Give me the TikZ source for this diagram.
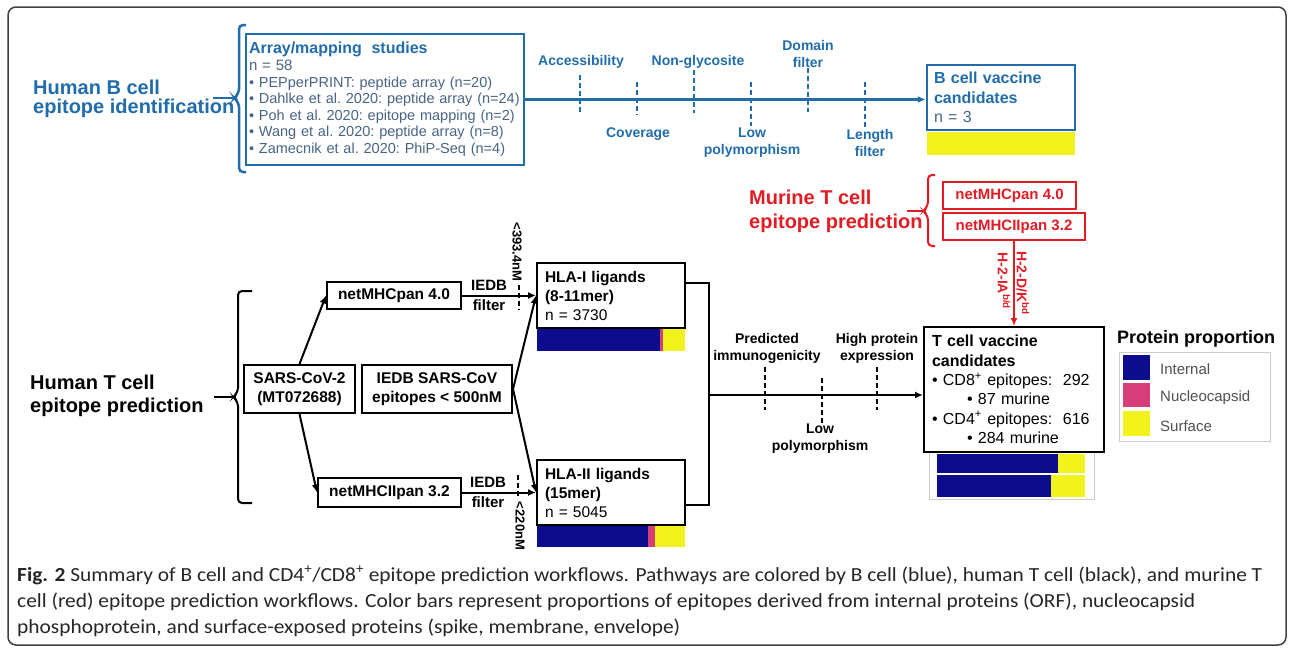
\documentclass[tikz,border=0pt]{standalone}
\usepackage{fontspec}
\setmainfont{Liberation Sans}
\newfontfamily\capfont[FakeStretch=1.07]{Carlito}
\usetikzlibrary{arrows.meta}
\definecolor{bblue}{RGB}{33,108,170}
\definecolor{bgray}{RGB}{72,100,132}
\definecolor{mred}{RGB}{226,28,36}
\definecolor{pinternal}{RGB}{12,12,140}
\definecolor{pnucleo}{RGB}{214,62,122}
\definecolor{psurface}{RGB}{242,242,28}
\definecolor{legendgray}{RGB}{80,80,80}
\tikzset{
  title/.style={inner sep=0pt, align=left, font=\bfseries\fontsize{20}{23}\selectfont},
  box/.style={draw, line width=2pt, inner sep=0pt, align=center, font=\bfseries\fontsize{15.5}{19}\selectfont},
  bbox/.style={box, draw=bblue, line width=2.5pt},
  mbox/.style={box, draw=mred, text=mred, font=\bfseries\fontsize{15}{18}\selectfont},
  tline/.style={line width=2pt},
  bline/.style={bblue, line width=2.5pt},
  tcut/.style={line width=2pt, dash pattern=on 5pt off 3pt},
  bcut/.style={tcut, bblue},
  flabel/.style={inner sep=0pt, align=center, font=\bfseries\fontsize{14}{17}\selectfont},
  blabel/.style={flabel, text=bblue},
  rlabel/.style={inner sep=0pt, rotate=-90, font=\bfseries\fontsize{13}{15}\selectfont},
  mlabel/.style={rlabel, text=mred, font=\bfseries\fontsize{14}{16}\selectfont},
  legtext/.style={anchor=west, inner sep=0pt, text=legendgray, font=\fontsize{15}{18}\selectfont},
  captext/.style={anchor=base west, inner sep=0pt, text=black!85, font=\capfont\fontsize{20}{22}\selectfont}
}
\begin{document}
\begin{tikzpicture}[x=1pt, y=-1pt, >={Latex[length=8pt,width=7pt]}]
\useasboundingbox (0,0) rectangle (1293,649);
\draw[black!75, line width=1.5pt, rounded corners=8pt] (8,7) rectangle (1286,645);

\node[title, text=bblue, anchor=west, font=\bfseries\fontsize{20}{19}\selectfont] (btitle) at (33,99) {Human B cell\\epitope identification};
\draw[bline, rounded corners=4pt] (246,25) -- (239,25) -- (239,93) -- (234,98) -- (239,103) -- (239,172) -- (246,172);
\draw[bline] (213,98) -- (234,98);
\node[bbox, minimum width=278pt, minimum height=131pt, text width=272pt, inner xsep=3pt, align=left, text=bgray, font=\frenchspacing\fontsize{14.5}{16.6}\selectfont] (bstudy) at (385,99.5) {{\color{bblue}\bfseries\fontsize{16}{16.6}\selectfont Array/mapping\ \ studies}\\{\fontsize{15}{16.6}\selectfont n = 58}\\• PEPperPRINT: peptide array (n=20)\\• Dahlke et al. 2020: peptide array (n=24)\\• Poh et al. 2020: epitope mapping (n=2)\\• Wang et al. 2020: peptide array (n=8)\\• Zamecnik et al. 2020: PhiP-Seq (n=4)};
\node[bbox, minimum width=148pt, minimum height=65pt, text width=134pt, inner xsep=7pt, align=left, text=bblue, font=\bfseries\fontsize{16}{19.5}\selectfont] (bvacc) at (1001,97.5) {B cell vaccine\\candidates\\{\mdseries\color{bgray} n = 3}};
\fill[psurface] (927,132) rectangle (1075,155);
\draw[bline, ->] (bstudy.east) -- (bstudy.east -| bvacc.west);
\draw[bcut] (580,75) -- (580,113);
\draw[bcut] (637,82) -- (637,115);
\draw[bcut] (694,70) -- (694,113);
\draw[bcut] (751,82) -- (751,126);
\draw[bcut] (808,68) -- (808,112);
\draw[bcut] (865,82) -- (865,128);
\node[blabel] (access) at (581,62) {Accessibility};
\node[blabel] (cover) at (638,134) {Coverage};
\node[blabel] (glyco) at (698,62) {Non-glycosite};
\node[blabel] (bpoly) at (752,143) {Low\\polymorphism};
\node[blabel] (domain) at (808,53.5) {Domain\\filter};
\node[blabel] (length) at (870,143) {Length\\filter};

\node[title, text=mred, anchor=west, font=\bfseries\fontsize{20}{24}\selectfont] (mtitle) at (749,211) {Murine T cell\\epitope prediction};
\draw[mred, line width=2pt, rounded corners=4pt] (935,175) -- (928,175) -- (928,206) -- (923,211) -- (928,216) -- (928,246) -- (935,246);
\draw[mred, line width=2pt] (907,211) -- (923,211);
\node[mbox, minimum width=133pt, minimum height=27pt] (mpan) at (1009.5,195.5) {netMHCpan 4.0};
\node[mbox, minimum width=142pt, minimum height=27pt] (mpanii) at (1014,226.5) {netMHCIIpan 3.2};
\node[mlabel] (hdk) at (1023,283) {H-2-D/K\textsuperscript{bd}};
\node[mlabel] (hia) at (1004,281) {H-2-IA\textsuperscript{b/d}};

\node[title, anchor=west] (ttitle) at (30,396) {Human T cell\\epitope prediction};
\draw[tline, rounded corners=4pt] (252,291) -- (238,291) -- (238,392) -- (233,397) -- (238,402) -- (238,503) -- (252,503);
\draw[tline] (214,397) -- (233,397);
\node[box, minimum width=111pt, minimum height=48pt] (sars) at (299.5,389) {SARS-CoV-2\\(MT072688)};
\node[box, minimum width=150pt, minimum height=48pt] (iedbs) at (437,389) {IEDB SARS-CoV\\epitopes < 500nM};
\node[box, minimum width=134pt, minimum height=27pt] (pan) at (394,295.5) {netMHCpan 4.0};
\node[box, minimum width=143pt, minimum height=29pt] (panii) at (389.5,492.5) {netMHCIIpan 3.2};
\node[box, minimum width=148pt, minimum height=65pt, text width=132pt, inner xsep=8pt, align=left] (hla1) at (611,295.5) {HLA-I ligands\\(8-11mer)\\{\mdseries n = 3730}};
\node[box, minimum width=148pt, minimum height=65pt, text width=132pt, inner xsep=8pt, align=left] (hla2) at (611,492.5) {HLA-II ligands\\(15mer)\\{\mdseries n = 5045}};
\fill[pinternal] (537,329) rectangle (660,351);
\fill[pnucleo] (660,329) rectangle (663,351);
\fill[psurface] (663,329) rectangle (685,351);
\fill[pinternal] (537,526) rectangle (648,547);
\fill[pnucleo] (648,526) rectangle (655,547);
\fill[psurface] (655,526) rectangle (685,547);
\draw[tline, ->] (sars.north) -- (pan.west);
\draw[tline, ->] (sars.south) -- (panii.west);
\draw[tline, ->] (pan.east) -- (hla1.west);
\draw[tline, ->] (panii.east) -- (hla2.west);
\draw[tline, ->] (iedbs.east) -- (hla1.west);
\draw[tline, ->] (iedbs.east) -- (hla2.west);
\node[flabel, font=\bfseries\fontsize{15}{20}\selectfont] (filt1) at (489,295.5) {IEDB\\filter};
\node[flabel, font=\bfseries\fontsize{15}{20}\selectfont] (filt2) at (488,492.5) {IEDB\\filter};
\draw[tcut] (519,285) -- (519,310);
\draw[tcut] (518,475) -- (518,498);
\node[rlabel] (nm393) at (517,252) {<393.4nM};
\node[rlabel] (nm220) at (520,526) {<220nM};

\draw[black!20, line width=1pt] (929,452) rectangle (1094,499);
\fill[pinternal] (937,454) rectangle (1058,473);
\fill[psurface] (1058,454) rectangle (1085,473);
\fill[pinternal] (937,475) rectangle (1051,497);
\fill[psurface] (1051,475) rectangle (1085,497);
\node[box, minimum width=180pt, minimum height=125pt, text width=164pt, inner xsep=8pt, align=left, font=\fontsize{16}{19.3}\selectfont] (tvacc) at (1014,389.5) {{\bfseries T cell vaccine}\\{\bfseries candidates}\\• CD8\textsuperscript{+} epitopes:\ \ 292\\\hspace*{35pt}• 87 murine\\• CD4\textsuperscript{+} epitopes:\ \ 616\\\hspace*{35pt}• 284 murine};
\draw[mred, line width=2pt, ->] (mpanii.south) -- (tvacc.north);
\coordinate (mj) at (709,395);
\draw[tline] ([yshift=12.5pt]hla1.east) -| (mj) |- ([yshift=-12.5pt]hla2.east);
\draw[tline, ->] (mj) -- (mj -| tvacc.west);
\draw[tcut] (765,367) -- (765,410);
\draw[tcut] (822,378) -- (822,423);
\draw[tcut] (877,367) -- (877,410);
\node[flabel] (immuno) at (767,348.5) {Predicted\\immunogenicity};
\node[flabel] (tpoly) at (820,438.5) {Low\\polymorphism};
\node[flabel] (express) at (877,348.5) {High protein\\expression};

\node[anchor=west, inner sep=0pt, font=\bfseries\fontsize{18}{20}\selectfont] (legtitle) at (1117,339) {Protein proportion};
\draw[black!20, line width=1pt] (1119,352) rectangle (1270,441);
\fill[pinternal] (1123,355) rectangle (1150,380);
\fill[pnucleo] (1123,383) rectangle (1150,407);
\fill[psurface] (1123,411) rectangle (1150,436);
\node[legtext] (leginternal) at (1160,369) {Internal};
\node[legtext] (legnucleo) at (1160,398) {Nucleocapsid};
\node[legtext] (legsurface) at (1160,426) {Surface};

\node[captext] (cap1) at (17,581) {{\bfseries Fig. 2} Summary of B cell and CD4\textsuperscript{+}/CD8\textsuperscript{+} epitope prediction workflows. Pathways are colored by B cell (blue), human T cell (black), and murine T};
\node[captext] (cap2) at (17,607) {cell (red) epitope prediction workflows. Color bars represent proportions of epitopes derived from internal proteins (ORF), nucleocapsid};
\node[captext] (cap3) at (17,633) {phosphoprotein, and surface-exposed proteins (spike, membrane, envelope)};
\end{tikzpicture}
\end{document}
